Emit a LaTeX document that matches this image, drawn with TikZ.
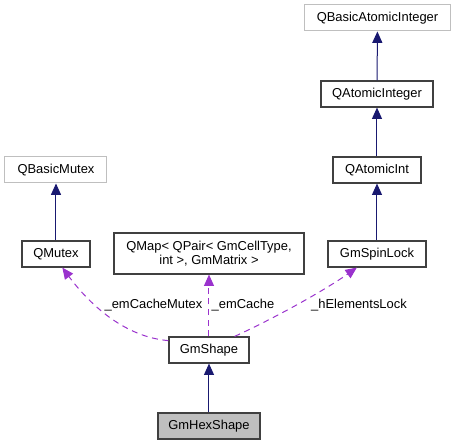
\documentclass[tikz,border=0pt]{standalone}
\usepackage{fontspec}
\setmainfont{Liberation Sans}
\usetikzlibrary{arrows.meta}
\definecolor{edgeblue}{HTML}{191970}
\definecolor{edgepurple}{HTML}{9A32CD}
\definecolor{graybox}{HTML}{BFBFBF}
\definecolor{lightborder}{HTML}{BFBFBF}
\begin{document}
\begin{tikzpicture}[x=0.75pt,y=-0.75pt,
  every node/.style={font=\fontsize{9.7}{11}\selectfont},
  cls/.style={draw=black!75, line width=0.9pt, fill=white, inner sep=0pt, minimum height=19.5pt, align=center},
  ext/.style={draw=lightborder, line width=0.75pt, fill=white, inner sep=0pt, minimum height=19.5pt},
  inh/.style={draw=edgeblue, line width=0.75pt, -{Triangle[length=8.5pt,width=7.5pt]}},
  use/.style={draw=edgepurple, line width=0.75pt, dash pattern=on 4.5pt off 3.5pt, -{Triangle[length=8.5pt,width=7.5pt]}},
  lbl/.style={inner sep=0pt}]
\useasboundingbox (0,0) rectangle (455,445);
\node[ext, minimum width=110pt] (qbai) at (377.5,18) {QBasicAtomicInteger};
\node[cls, minimum width=84pt] (qai) at (377,94) {QAtomicInteger};
\node[cls, minimum width=66pt] (qaint) at (377,170) {QAtomicInt};
\node[ext, minimum width=76.5pt] (qbm) at (56,170) {QBasicMutex};
\node[cls, minimum width=51pt] (qmutex) at (56,254) {QMutex};
\node[cls, minimum width=142.5pt, minimum height=30.75pt] (qmap) at (209,253.5) {QMap< QPair< GmCellType,\\int >, GmMatrix >};
\node[cls, minimum width=73.5pt] (spin) at (377,254) {GmSpinLock};
\node[cls, minimum width=60pt] (shape) at (209,350) {GmShape};
\node[cls, fill=graybox, minimum width=76.5pt] (hex) at (209,426) {GmHexShape};

\draw[inh] (qai) -- (qbai);
\draw[inh] (qaint) -- (qai);
\draw[inh] (spin) -- (qaint);
\draw[inh] (qmutex) -- (qbm);
\draw[inh] (hex) -- (shape);

\draw[use] (shape.167) .. controls (125,337) and (90,305) .. (qmutex.-65);
\draw[use] (shape.north) -- (qmap.south);
\draw[use] (shape.28) .. controls (275,318) and (325,290) .. (spin.-146);

\node[lbl] (l1) at (153.5,305) {\_emCacheMutex};
\node[lbl] (l2) at (243,305) {\_emCache};
\node[lbl] (l3) at (359,305) {\_hElementsLock};
\end{tikzpicture}
\end{document}
